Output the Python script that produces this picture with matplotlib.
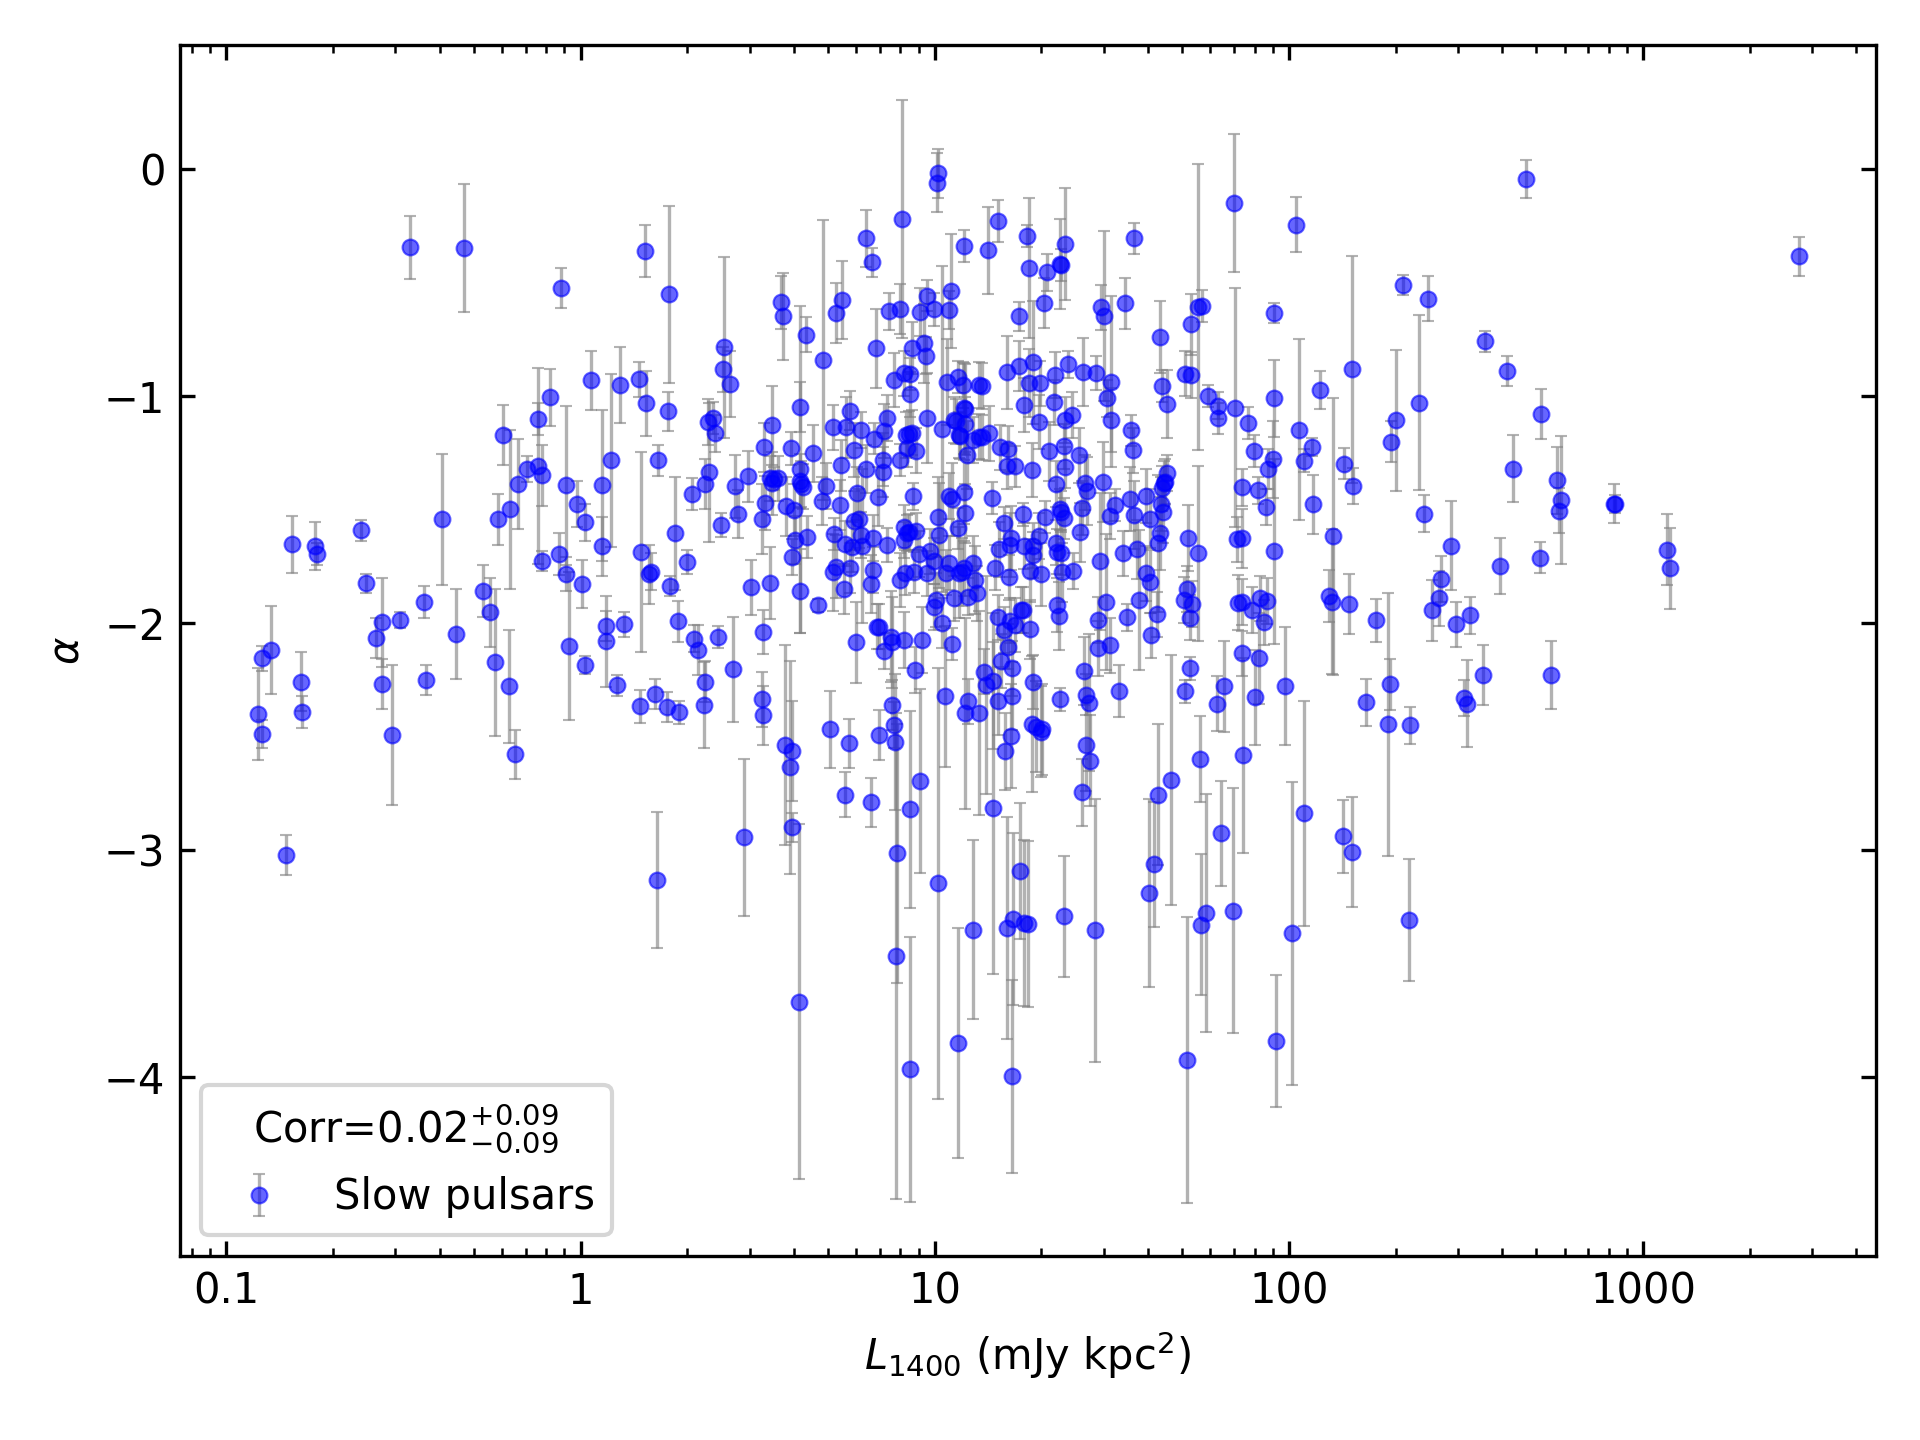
import matplotlib
matplotlib.use("Agg")
import matplotlib.pyplot as plt
from matplotlib.ticker import FuncFormatter, LogLocator, NullFormatter

# Pseudo-luminosity at 1400 MHz (mJy kpc^2)
luminosity = [
    0.331,0.47,0.883,1.52,1.78,1.07,1.29,1.46,1.53,1.77,
    1.66,1.22,1.15,0.98,0.912,0.822,0.757,0.76,0.78,0.708,
    0.664,0.603,0.631,0.583,0.407,1.03,1.486,1.153,0.867,0.78,
    0.912,1.007,0.925,1.03,1.183,1.183,1.33,1.265,1.47,1.62,
    1.76,1.9,1.556,1.58,1.79,1.85,1.88,1.64,0.147,0.123,
    0.126,0.1265,0.134,0.163,0.164,0.153,0.178,0.18,0.24,0.248,
    0.276,0.276,0.264,0.31,0.294,0.362,0.367,0.444,0.529,0.556,
    0.575,0.627,0.652,2.54,2.52,2.65,3.67,3.72,4.32,4.17,
    4.17,4.85,5.25,5.46,6.4,6.64,8.07,10.2,10.14,12.1,
    6.81,7.45,7.98,9.06,9.5,9.93,11.1,11.0,8.6,9.3,
    9.44,10.5,9.5,7.66,8.2,8.5,8.5,10.8,11.6,12.0,
    13.3,2.36,2.29,2.39,2.31,2.25,2.06,2.5,2.0,2.73,
    2.97,2.79,3.29,3.47,3.92,4.52,3.32,3.25,3.42,3.61,
    3.47,3.51,3.81,4.0,4.17,4.24,4.19,4.02,4.35,3.95,
    3.42,3.02,4.17,4.68,3.27,2.69,2.44,2.09,2.14,2.25,
    4.92,4.81,5.4,5.43,5.75,5.17,5.6,6.18,6.76,7.17,
    7.32,5.93,6.41,7.13,7.13,6.03,6.92,5.93,6.1,5.19,
    5.57,5.84,6.18,6.24,6.68,7.33,5.26,5.15,5.77,5.53,
    6.68,6.59,5.98,6.87,6.98,7.53,7.6,7.18,8.17,9.18,
    8.77,7.96,8.25,8.75,9.49,8.17,8.17,8.45,8.36,8.86,
    10.2,10.26,9.05,9.7,9.93,10.97,10.77,11.7,12.1,11.95,
    12.8,13,13.2,11.3,12.4,10.1,9.93,10.5,11.2,
    11.67,12.2,12.1,10.96,11.2,8.7,8.34,8.83,7.96,8.3,
    8.63,8.45,11.3,11.5,12.1,12.2,12.2,11.7,11.8,12.8,
    13.3,12.3,14.1,15.1,18.2,18.5,20.3,20.7,22.6,22.8,
    23.3,17.3,16,17.3,18.9,18.5,19.8,21.9,23.8,26.2,
    28.5,31.4,29.4,30.1,34.4,36.5,43.3,51,53,52.8,
    55.5,56.9,70,70.5,90.8,43.8,13.6,17.9,21.7,30.6,
    31.5,45.2,59,63,63,76.5,90.8,79.6,87.3,
    73.8,81.8,86.2,90.8,73.8,71.4,51.9,55.5,35.7,39.5,
    45.2,44.7,44.4,43.9,43.5,44,36.5,40.6,32.3,31.2,
    36.3,35.9,29.8,25.6,26.5,26.9,26,25.7,22.7,22.6,
    23.2,22,23.3,23.2,21,18.8,16.9,16,15.3,16.1,
    14.2,13.6,23.4,24.4,19.7,14.5,17.7,20.5,15.7,16.4,
    16.3,15.2,17.9,18.9,19.7,19,22,22.1,22.7,14.8,
    16.2,18.6,20,22.9,24.6,29.3,30.5,34,37.3,39.6,
    40.5,43.2,42.7,37.7,34.9,28.9,42.4,40.9,31.3,29,
    26.4,52.6,51.4,50.7,53.3,52.5,73.8,71.8,78.9,82.8,
    87,85,73.8,82.2,22.1,22.5,17.5,17.7,15.1,16.3,
    16.8,15.7,18.6,16.1,15.4,16.5,13.8,2.23,
    3.25,3.27,3.77,3.96,3.9,3.96,2.89,5.05,5.74,6.95,
    7.57,7.65,7.73,5.57,6.63,8.54,9.06,7.85,7.77,8.5,
    4.14,10.2,10.7,12.4,12.2,13.3,14,14.6,15.1,16.5,
    19,22.6,26.7,27.2,33.1,50.8,65.6,62.7,80.2,14.6,
    16.4,15.8,18.8,19.3,20.1,19.9,16,16.6,17.9,18.3,
    17.4,16.5,12.8,11.6,23.2,28.3,26.1,26.7,27.5,41.6,
    40.3,42.7,46.6,56,64.3,58.4,56.5,69.7,74.3,51.6,
    91.9,105,210,247,467,2760,358,414,515,151,
    122,107,116,110,90,143,152,117,133,201,
    194,233,241,287,428,573,587,580,830,832,
    1170,1190,394,513,269,265,130,132,148,
    176,97.7,165,193,190,220,110,102,142,151,
    218,254,296,324,353,313,318,550,
]

# Spectral index
spectral_index = [
    -.344,-.348,-.524,-.36,-.551,-.93,-.951,-.925,-1.031,-1.066,
    -1.282,-1.282,-1.392,-1.474,-1.392,-1.004,-1.101,-1.307,-1.347,-1.32,
    -1.386,-1.172,-1.498,-1.542,-1.542,-1.555,-1.687,-1.661,-1.695,-1.725,
    -1.783,-1.828,-2.10,-2.184,-2.012,-2.079,-2.004,-2.273,-2.366,-2.311,
    -2.37,-2.392,-1.783,-1.772,-1.837,-1.604,-1.991,-3.132,-3.022,-2.40,
    -2.488,-2.154,-2.119,-2.257,-2.392,-1.652,-1.659,-1.696,-1.59,-1.824,
    -1.996,-2.269,-2.066,-1.987,-2.493,-1.907,-2.251,-2.045,-1.859,-1.952,
    -2.172,-2.278,-2.577,-.784,-.881,-.946,-.586,-.648,-.728,-1.048,
    -1.322,-.84,-.634,-.576,-.304,-.41,-.22,-.018,-.059,-.338,
    -.789,-.626,-.617,-.63,-.557,-.617,-.536,-.62,-.787,-.767,
    -.82,-1.145,-1.097,-.928,-.899,-.903,-.991,-.935,-.913,-.95,
    -.95,-1.094,-1.112,-1.163,-1.335,-1.388,-1.43,-1.568,-1.73,-1.396,
    -1.352,-1.52,-1.225,-1.128,-1.229,-1.251,-1.47,-1.539,-1.361,-1.361,
    -1.383,-1.363,-1.485,-1.502,-1.373,-1.398,-1.386,-1.634,-1.62,-1.709,
    -1.822,-1.841,-1.857,-1.921,-2.04,-2.203,-2.06,-2.068,-2.117,-2.257,
    -1.395,-1.461,-1.479,-1.304,-1.063,-1.137,-1.137,-1.147,-1.186,-1.153,
    -1.095,-1.236,-1.321,-1.28,-1.332,-1.427,-1.442,-1.548,-1.54,-1.606,
    -1.649,-1.664,-1.611,-1.659,-1.624,-1.656,-1.75,-1.775,-1.758,-1.85,
    -1.765,-1.827,-2.084,-2.015,-2.015,-2.059,-2.084,-2.123,-2.073,-2.073,
    -2.206,-1.808,-1.777,-1.774,-1.78,-1.574,-1.633,-1.596,-1.603,-1.595,
    -1.531,-1.612,-1.695,-1.683,-1.725,-1.733,-1.777,-1.777,-1.758,-1.772,
    -1.733,-1.809,-1.868,-1.89,-1.882,-1.897,-1.927,-2.0,-2.092,
    -1.581,-1.515,-1.421,-1.439,-1.454,-1.44,-1.229,-1.239,-1.28,-1.17,
    -1.16,-1.165,-1.104,-1.11,-1.053,-1.057,-1.123,-1.17,-1.175,-1.192,
    -1.178,-1.26,-.357,-.229,-.294,-.436,-.59,-.454,-.417,-.422,
    -.329,-.648,-.894,-.866,-.85,-.943,-.943,-.906,-.858,-.894,
    -.899,-.935,-.608,-.645,-.59,-.303,-.739,-.9,-.906,-.683,
    -.605,-.601,-.146,-1.05,-.634,-.954,-.954,-1.038,-1.026,-1.009,
    -1.104,-1.034,-.998,-1.041,-1.097,-1.117,-1.009,-1.241,-1.32,
    -1.401,-1.414,-1.487,-1.683,-1.625,-1.63,-1.624,-1.692,-1.452,-1.439,
    -1.339,-1.376,-1.383,-1.405,-1.474,-1.508,-1.524,-1.54,-1.479,-1.527,
    -1.238,-1.15,-1.377,-1.26,-1.38,-1.416,-1.492,-1.599,-1.508,-1.498,
    -1.537,-1.386,-1.313,-1.22,-1.241,-1.325,-1.308,-1.308,-1.225,-1.232,
    -1.163,-1.18,-1.104,-1.082,-1.112,-1.449,-1.52,-1.533,-1.559,-1.625,
    -1.655,-1.674,-1.659,-1.658,-1.615,-1.699,-1.645,-1.684,-1.689,-1.755,
    -1.797,-1.768,-1.784,-1.775,-1.768,-1.727,-1.907,-1.692,-1.674,-1.78,
    -1.816,-1.603,-1.648,-1.897,-1.974,-1.985,-1.96,-2.053,-2.097,-2.11,
    -2.211,-2.198,-1.849,-1.897,-1.915,-1.975,-1.905,-1.909,-1.941,-1.89,
    -1.902,-1.996,-2.132,-2.154,-1.919,-1.968,-1.941,-1.941,-1.974,-1.988,
    -2.007,-2.029,-2.025,-2.103,-2.166,-2.198,-2.213,-2.361,
    -2.335,-2.405,-2.537,-2.564,-2.634,-2.899,-2.943,-2.467,-2.528,-2.493,
    -2.361,-2.447,-2.522,-2.754,-2.789,-2.819,-2.696,-3.013,-3.467,-3.965,
    -3.666,-3.145,-2.321,-2.344,-2.397,-2.394,-2.273,-2.253,-2.341,-2.321,
    -2.258,-2.335,-2.314,-2.349,-2.299,-2.299,-2.277,-2.353,-2.326,-2.814,
    -2.497,-2.564,-2.443,-2.455,-2.467,-2.478,-3.343,-3.302,-3.32,-3.323,
    -3.092,-3.995,-3.349,-3.849,-3.291,-3.353,-2.745,-2.537,-2.605,-3.062,
    -3.189,-2.754,-2.689,-2.599,-2.925,-3.277,-3.327,-3.265,-2.581,-3.922,
    -3.839,-.243,-.511,-.569,-.044,-.382,-.758,-.89,-1.076,-.881,
    -.97,-1.146,-1.222,-1.283,-1.277,-1.296,-1.394,-1.476,-1.617,-1.106,
    -1.199,-1.027,-1.516,-1.657,-1.318,-1.369,-1.457,-1.504,-1.472,-1.475,
    -1.675,-1.758,-1.748,-1.71,-1.804,-1.89,-1.88,-1.905,-1.915,
    -1.987,-2.276,-2.348,-2.269,-2.445,-2.449,-2.837,-3.366,-2.938,-3.009,
    -3.308,-1.943,-2.004,-1.965,-2.229,-2.329,-2.354,-2.229,
]

# One-sigma uncertainty on the spectral index
index_error = [
    .137,.282,.088,.115,.39,.129,.167,.078,.143,.085,
    .07,.382,.332,.103,.35,.126,.07,.43,.135,.058,
    .2,.132,.35,.114,.29,.083,.44,.13,.092,.043,
    .074,.105,.326,.04,.065,.2,.055,.047,.073,.068,
    .066,.05,.13,.08,.044,.25,.09,.30,.088,.203,
    .062,.055,.194,.13,.07,.124,.105,.048,.045,.043,
    .195,.11,.088,.035,.308,.07,.066,.198,.115,.152,
    .322,.251,.108,.40,.1,.144,.115,.193,.076,.11,
    .72,.615,.132,.172,.127,.065,.524,.11,.13,.07,
    .175,.08,.11,.106,.068,.072,.25,.085,.115,.176,
    .082,.718,.198,.12,.1,.07,.1,.19,.07,.1,
    .1,.07,.1,.08,.307,.11,.07,.053,.053,.138,
    .112,.106,.107,.174,.073,.124,.118,.155,.1,.1,
    .14,.05,.13,.114,.12,.1,.1,.105,.093,.08,
    .16,.12,.186,.03,.097,.23,.05,.06,.11,.09,
    .1,.107,.11,.114,.085,.1,.135,.08,.07,.12,
    .1,.117,.105,.117,.11,.117,.13,.13,.13,.07,
    .1,.11,.1,.34,.1,.075,.14,.17,.11,.11,
    .1,.128,.18,.1,.1,.2,.2,.08,.125,.147,
    .1,.12,.1,.09,.1,.095,.08,.08,.08,.08,
    .177,.23,.1,.1,.1,.12,.1,.2,.12,.15,
    .12,.15,.12,.1,.08,.12,.1,.11,.07,
    .09,.13,.14,.1,.16,.06,.08,.1,.07,.1,
    .1,.1,.1,.1,.2,.2,.12,.1,.1,.1,
    .1,.15,.193,.093,.05,.308,.11,.08,.2,.07,
    .246,.065,.16,.11,.27,.15,.1,.1,.06,.15,
    .075,.376,.1,.375,.113,.068,.16,.1,.1,.134,
    .63,.07,.304,.526,.044,.07,.1,.12,.1,.08,
    .14,.15,.05,.06,.07,.07,.17,.07,.09,
    .08,.06,.08,.408,.13,.1,.144,.387,.14,.117,
    .08,.1,.1,.1,.12,.14,.15,.13,.07,.1,
    .1,.07,.175,.12,.12,.15,.12,.13,.09,.09,
    .09,.1,.09,.1,.13,.12,.09,.1,.1,.1,
    .12,.1,.1,.1,.12,.07,.05,.07,.07,.14,
    .14,.12,.1,.1,.1,.1,.1,.1,.1,.1,
    .1,.14,.14,.13,.08,.3,.3,.1,.13,.12,
    .14,.16,.3,.31,.06,.1,.1,.1,.12,.12,
    .15,.05,.1,.1,.1,.1,.1,.12,.1,.1,
    .1,.1,.1,.2,.12,.15,.1,.1,.1,.1,
    .12,.1,.13,.1,.12,.12,.1,.19,
    .12,.13,.44,.22,.47,.065,.345,.17,.108,.11,
    .11,.1,.3,.1,.11,.435,.405,.57,1.07,.585,
    .783,.95,.31,.1,.42,.45,.48,.3,.15,.15,
    .12,.05,.09,.3,.115,.05,.2,.12,.21,.73,
    .23,.17,.3,.2,.2,.2,.49,.38,.365,.365,
    .3,.425,.395,.505,.265,.58,.148,.2,.2,.275,
    .415,.31,.55,.19,.23,.525,.31,.54,.43,.63,
    .29,.122,.044,.1,.084,.086,.045,.066,.11,.5,
    .084,.4,.04,.05,.17,.07,.08,.13,.61,.31,
    .09,.384,.08,.195,.148,.147,.282,.1,.085,.04,
    .157,.18,.122,.07,.1,.12,.115,.32,.132,
    .095,.26,.104,.113,.58,.082,.495,.667,.16,.242,
    .268,.133,.1,.08,.132,.08,.192,.15,
]

assert len(luminosity) == len(spectral_index) == len(index_error)

fig = plt.figure(figsize=(6.4, 4.8), dpi=300)
ax = fig.add_axes([180 / 1920, 1 - 1256 / 1440, 1695.5 / 1920, 1211 / 1440])

ax.errorbar(
    luminosity, spectral_index, yerr=index_error,
    fmt="o", color="blue", ecolor="gray", alpha=0.6,
    markersize=3.8, markeredgewidth=0.5, elinewidth=0.8, capthick=0.8,
    capsize=1.5, label="Slow pulsars",
)

ax.set_xscale("log")
ax.set_xlim(0.074, 4530)
ax.set_ylim(-4.787, 0.548)
ax.set_yticks([-4, -3, -2, -1, 0])

ax.xaxis.set_major_locator(LogLocator(base=10, numticks=10))
ax.xaxis.set_major_formatter(FuncFormatter(lambda v, _: f"{v:g}"))
ax.xaxis.set_minor_formatter(NullFormatter())
ax.tick_params(which="both", direction="in", top=True, right=True)

ax.set_xlabel(r"$L_{1400}$ (mJy kpc$^{2}$)")
ax.set_ylabel(r"$\alpha$")
ax.legend(loc="lower left", title=r"Corr=$0.02^{+0.09}_{-0.09}$")

fig.savefig("out.png", dpi=300)
